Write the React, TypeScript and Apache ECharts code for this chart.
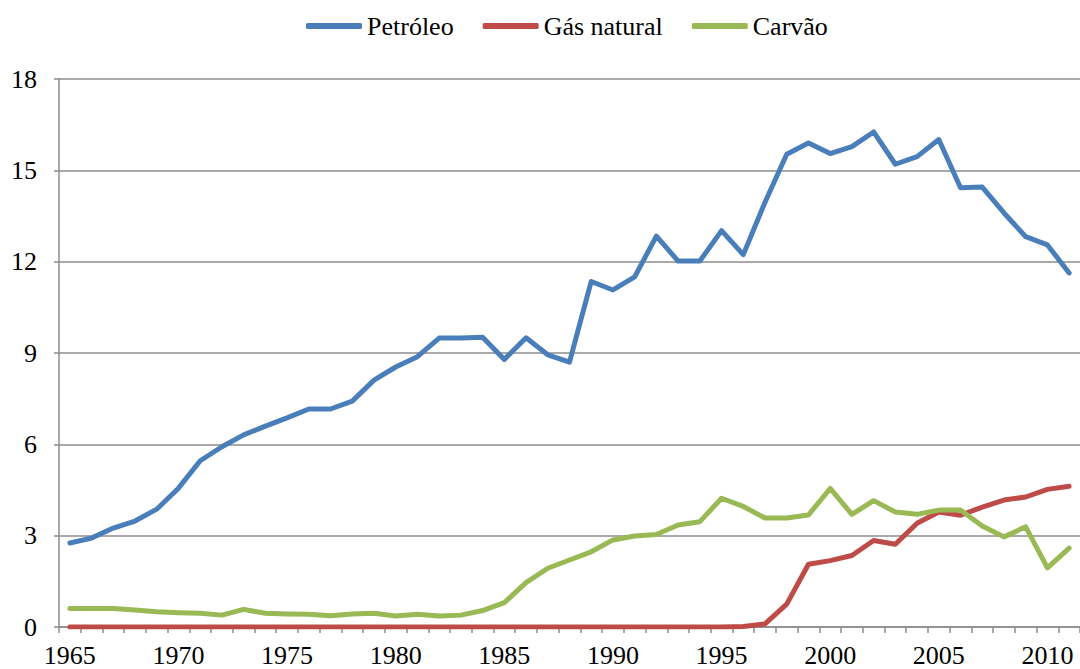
import React, { useEffect, useRef } from "react";
import * as echarts from "echarts";

const years: string[] = [];
for (let y = 1965; y <= 2011; y++) years.push(String(y));

const petroleo = [
  2.76, 2.92, 3.25, 3.48, 3.87, 4.56, 5.46, 5.92, 6.31, 6.6,
  6.87, 7.16, 7.16, 7.42, 8.11, 8.54, 8.88, 9.49, 9.49, 9.52,
  8.79, 9.5, 8.94, 8.7, 11.35, 11.07, 11.5, 12.84, 12.02, 12.02,
  13.02, 12.23, 13.95, 15.53, 15.9, 15.55, 15.78, 16.26, 15.2, 15.45,
  16.01, 14.43, 14.45, 13.6, 12.82, 12.55, 11.63,
];

const gasNatural = [
  0, 0, 0, 0, 0, 0, 0, 0, 0, 0,
  0, 0, 0, 0, 0, 0, 0, 0, 0, 0,
  0, 0, 0, 0, 0, 0, 0, 0, 0, 0,
  0, 0.02, 0.1, 0.75, 2.06, 2.18, 2.35, 2.84, 2.72, 3.41,
  3.78, 3.67, 3.94, 4.17, 4.27, 4.52, 4.62,
];

const carvao = [
  0.61, 0.61, 0.61, 0.56, 0.5, 0.47, 0.45, 0.39, 0.58, 0.45,
  0.43, 0.42, 0.37, 0.43, 0.45, 0.36, 0.42, 0.36, 0.39, 0.54,
  0.8, 1.46, 1.93, 2.2, 2.47, 2.86, 2.99, 3.04, 3.35, 3.46,
  4.23, 3.96, 3.58, 3.58, 3.68, 4.55, 3.7, 4.15, 3.78, 3.7,
  3.84, 3.84, 3.32, 2.96, 3.29, 1.94, 2.59,
];

const seriesNames = ["Petróleo", "Gás natural", "Carvão"];
const seriesColors = ["#4A7EBB", "#BE4B48", "#98B954"];

export default function App() {
  const ref = useRef<HTMLDivElement>(null);
  useEffect(() => {
    if (!ref.current) return;
    const chart = echarts.init(ref.current, null, { renderer: "svg" });
    const font = "Liberation Serif";
    const data = [petroleo, gasNatural, carvao];
    chart.setOption({
      animation: false,
      textStyle: { fontFamily: font },
      legend: {
        top: 8,
        left: 301,
        itemWidth: 56,
        itemHeight: 6,
        itemGap: 29,
        icon: "roundRect",
        textStyle: { fontFamily: font, fontSize: 26, color: "#000" },
        data: seriesNames,
      },
      grid: { left: 59, right: 0, top: 79, bottom: 42, containLabel: false },
      xAxis: {
        type: "category",
        data: years,
        boundaryGap: true,
        axisLine: { lineStyle: { color: "#8C8C8C", width: 1.5 } },
        axisTick: { show: true, interval: 0, length: 6, lineStyle: { color: "#8C8C8C", width: 1.5 } },
        axisLabel: { interval: 4, fontFamily: font, fontSize: 26, color: "#000", margin: 15 },
      },
      yAxis: {
        type: "value",
        min: 0,
        max: 18,
        interval: 3,
        axisLine: { show: true, lineStyle: { color: "#8C8C8C", width: 1.5 } },
        axisTick: { show: true, length: 5, lineStyle: { color: "#8C8C8C", width: 1.5 } },
        axisLabel: { fontFamily: font, fontSize: 26, color: "#000", margin: 22 },
        splitLine: { show: true, lineStyle: { color: "#8C8C8C", width: 1.5 } },
      },
      series: seriesNames.map((name, i) => ({
        name,
        type: "line",
        data: data[i],
        symbol: "none",
        color: seriesColors[i],
        lineStyle: { width: 5, color: seriesColors[i], cap: "round", join: "round" },
      })),
    });
    return () => chart.dispose();
  }, []);
  return (
    <div
      ref={ref}
      style={{ position: "absolute", left: 0, top: 0, width: 1080, height: 669 }}
    />
  );
}
